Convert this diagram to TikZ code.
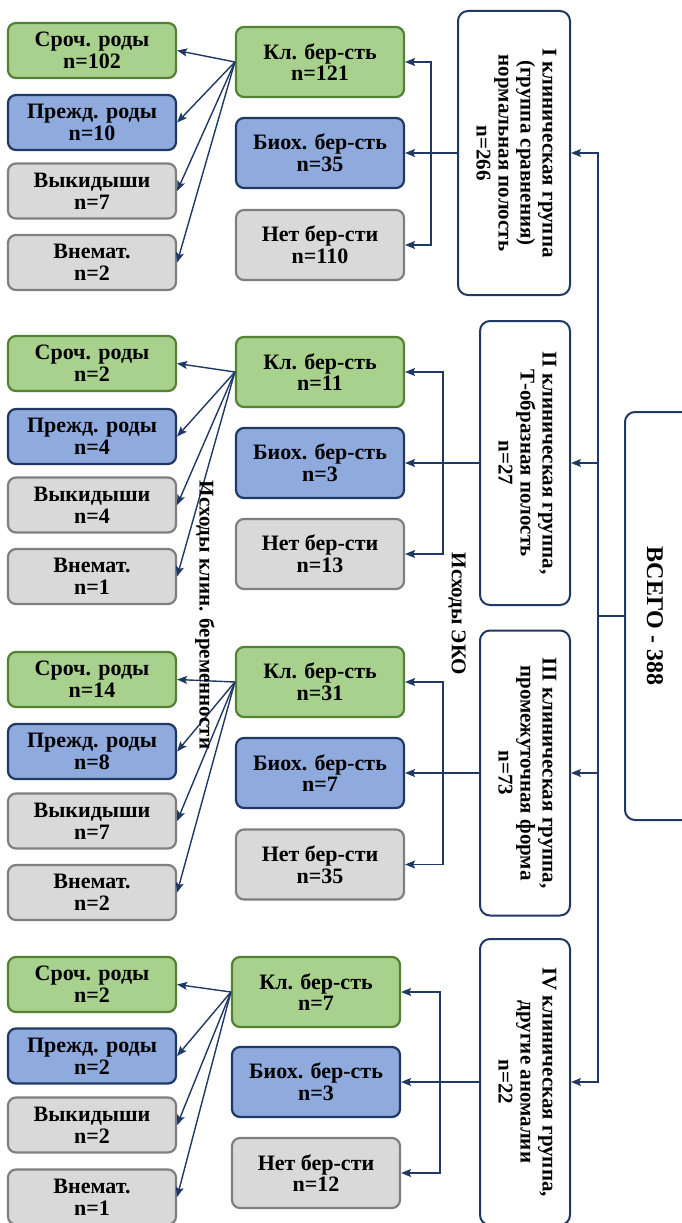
\documentclass[tikz,border=0pt]{standalone}
\usepackage{fontspec}
\usepackage{graphicx}
\setmainfont{Liberation Serif}
\usetikzlibrary{arrows.meta}
\definecolor{navy}{HTML}{1F3864}
\definecolor{grfill}{HTML}{A9D18E}
\definecolor{grline}{HTML}{548235}
\definecolor{blfill}{HTML}{8FAADC}
\definecolor{blline}{HTML}{203864}
\definecolor{gyfill}{HTML}{D9D9D9}
\definecolor{gyline}{HTML}{7F7F7F}
\newcommand{\vtxt}[1]{\rotatebox{-90}{\begin{tabular}{@{}c@{}}#1\end{tabular}}}
\tikzset{
  box/.style={rounded corners=8pt, line width=2.2pt, minimum width=168pt, inner sep=0pt,
    align=center, font=\bfseries\fontsize{22}{21.7}\selectfont},
  outc/.style={box, minimum height=55pt},
  ekoc/.style={box, minimum height=70pt},
  grn/.style={fill=grfill, draw=grline},
  blu/.style={fill=blfill, draw=blline},
  gry/.style={fill=gyfill, draw=gyline},
  grp/.style={rounded corners=10pt, line width=2pt, draw=navy, fill=white, inner sep=0pt,
    font=\bfseries\fontsize{21}{22}\selectfont},
  lab/.style={rotate=-90, font=\bfseries\fontsize{21}{22}\selectfont},
  arr/.style={navy, line width=1.4pt, -{Stealth[length=10pt,width=8pt,inset=2pt]}},
  lin/.style={navy, line width=1.4pt}
}

\begin{document}
\begin{tikzpicture}[x=1pt,y=-1pt]
   \useasboundingbox (0,0) rectangle (682,1223);
   \clip (0,0) rectangle (682,1223);

   \node[grp, minimum width=90pt, minimum height=408pt] (total) at (670,616) {};
   \node[lab, font=\bfseries\fontsize{24}{24}\selectfont] (totaltxt) at (655,616) {ВСЕГО - 388};
   \coordinate (hub) at (598,616);

   \node[grp, minimum width=112pt, minimum height=284pt] (g1) at (514,153)
      {\vtxt{I клиническая группа\\(группа сравнения)\\нормальная полость\\n=266}};
   \node[grp, minimum width=90pt, minimum height=284pt] (g2) at (525,463)
      {\vtxt{II клиническая группа,\\Т-образная  полость\\n=27}};
   \node[grp, minimum width=90pt, minimum height=285pt] (g3) at (525,773)
      {\vtxt{III клиническая группа,\\промежуточная форма\\n=73}};
   \node[grp, minimum width=90pt, minimum height=286pt] (g4) at (525,1082)
      {\vtxt{IV клиническая группа,\\другие аномалии\\n=22}};

   \draw[lin] (total.west) -- (hub);
   \draw[arr] (hub) |- (g1.east);
   \draw[arr] (hub) |- (g2.east);
   \draw[arr] (hub) |- (g3.east);
   \draw[arr] (hub) |- (g4.east);

   % I
   \node[ekoc, grn] (k1) at (320,62) {Кл. бер-сть\\n=121};
   \node[ekoc, blu] (b1) at (320,153) {Биох. бер-сть\\n=35};
   \node[ekoc, gry] (n1) at (320,245) {Нет бер-сти\\n=110};
   \coordinate (e1) at (431,153);
   \draw[arr] (g1.west) -- (b1.east);
   \draw[arr] (e1) |- (k1.east);
   \draw[arr] (e1) |- (n1.east);
   \node[outc, grn] (s1) at (92,50.5) {Сроч. роды\\n=102};
   \node[outc, blu] (p1) at (92,122.5) {Прежд. роды\\n=10};
   \node[outc, gry] (v1) at (92,191) {Выкидыши\\n=7};
   \node[outc, gry] (m1) at (92,262.5) {Внемат.\\n=2};
   \draw[arr] (k1.west) -- (s1.east);
   \draw[arr] (k1.west) -- (p1.east);
   \draw[arr] (k1.west) -- (v1.east);
   \draw[arr] (k1.west) -- (m1.east);

   % II
   \node[ekoc, grn] (k2) at (320,372) {Кл. бер-сть\\n=11};
   \node[ekoc, blu] (b2) at (320,463) {Биох. бер-сть\\n=3};
   \node[ekoc, gry] (n2) at (320,554) {Нет бер-сти\\n=13};
   \coordinate (e2) at (443,463);
   \draw[arr] (g2.west) -- (b2.east);
   \draw[arr] (e2) |- (k2.east);
   \draw[arr] (e2) |- (n2.east);
   \node[outc, grn] (s2) at (92,363.5) {Сроч. роды\\n=2};
   \node[outc, blu] (p2) at (92,436.5) {Прежд. роды\\n=4};
   \node[outc, gry] (v2) at (92,505) {Выкидыши\\n=4};
   \node[outc, gry] (m2) at (92,576.5) {Внемат.\\n=1};
   \draw[arr] (k2.west) -- (s2.east);
   \draw[arr] (k2.west) -- (p2.east);
   \draw[arr] (k2.west) -- (v2.east);
   \draw[arr] (k2.west) -- (m2.east);

   % III
   \node[ekoc, grn] (k3) at (320,682) {Кл. бер-сть\\n=31};
   \node[ekoc, blu] (b3) at (320,773) {Биох. бер-сть\\n=7};
   \node[ekoc, gry] (n3) at (320,864.5) {Нет бер-сти\\n=35};
   \coordinate (e3) at (443,773);
   \draw[arr] (g3.west) -- (b3.east);
   \draw[arr] (e3) |- (k3.east);
   \draw[arr] (e3) |- (n3.east);
   \node[outc, grn] (s3) at (92,679.5) {Сроч. роды\\n=14};
   \node[outc, blu] (p3) at (92,751.5) {Прежд. роды\\n=8};
   \node[outc, gry] (v3) at (92,821) {Выкидыши\\n=7};
   \node[outc, gry] (m3) at (92,892.5) {Внемат.\\n=2};
   \draw[arr] (k3.west) -- (s3.east);
   \draw[arr] (k3.west) -- (p3.east);
   \draw[arr] (k3.west) -- (v3.east);
   \draw[arr] (k3.west) -- (m3.east);

   % IV
   \node[ekoc, grn] (k4) at (316,992) {Кл. бер-сть\\n=7};
   \node[ekoc, blu] (b4) at (316,1082) {Биох. бер-сть\\n=3};
   \node[ekoc, gry] (n4) at (316,1173) {Нет бер-сти\\n=12};
   \coordinate (e4) at (440,1082);
   \draw[arr] (g4.west) -- (b4.east);
   \draw[arr] (e4) |- (k4.east);
   \draw[arr] (e4) |- (n4.east);
   \node[outc, grn] (s4) at (92,984.5) {Сроч. роды\\n=2};
   \node[outc, blu] (p4) at (92,1056) {Прежд. роды\\n=2};
   \node[outc, gry] (v4) at (92,1125) {Выкидыши\\n=2};
   \node[outc, gry] (m4) at (92,1197) {Внемат.\\n=1};
   \draw[arr] (k4.west) -- (s4.east);
   \draw[arr] (k4.west) -- (p4.east);
   \draw[arr] (k4.west) -- (v4.east);
   \draw[arr] (k4.west) -- (m4.east);

   \node[lab] (ekolab) at (457,614) {Исходы ЭКО};
   \node[lab] (beremlab) at (205,615) {Исходы клин. беременности};
\end{tikzpicture}
\end{document}
